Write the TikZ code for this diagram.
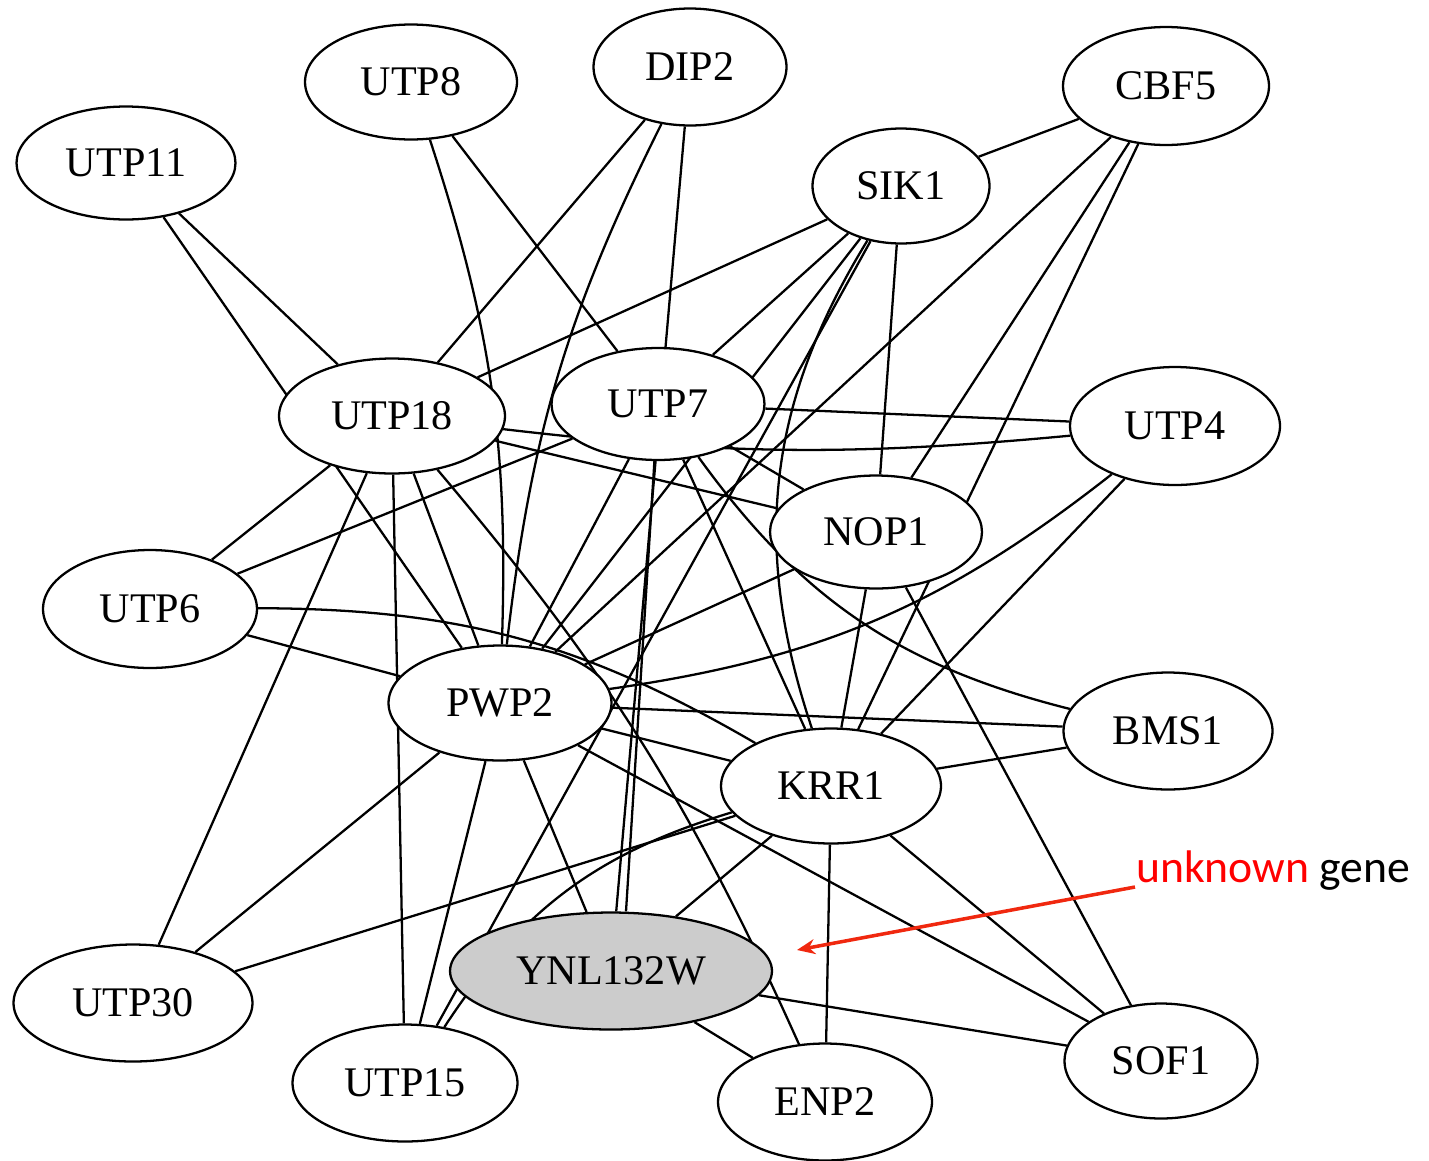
\documentclass[tikz,border=0pt]{standalone}
\usepackage{fontspec}
\setmainfont{Liberation Serif}
\newfontfamily\notefont{Carlito}
\usepackage{xcolor}
\usepackage{tikz}
\usetikzlibrary{shapes.geometric,arrows.meta,backgrounds}
\definecolor{pointer}{RGB}{240,40,15}

\begin{document}
\begin{tikzpicture}[x=0.02cm,y=-0.02cm,line width=1.3pt,
  gene/.style={draw,ellipse,fill=white,inner sep=0pt,line width=1.3pt,font=\fontsize{24}{28}\selectfont},
  query/.style={gene,fill=black!20}]
\useasboundingbox (0,0) rectangle (1429,1160);
% proteins of the network
\node[gene,minimum width=4.38cm,minimum height=2.26cm] (utp11) at (126,163) {UTP11};
\node[gene,minimum width=4.24cm,minimum height=2.3cm] (utp8) at (411,82) {UTP8};
\node[gene,minimum width=3.86cm,minimum height=2.34cm] (dip2) at (690,67) {DIP2};
\node[gene,minimum width=4.12cm,minimum height=2.36cm] (cbf5) at (1166,86) {CBF5};
\node[gene,minimum width=3.54cm,minimum height=2.3cm] (sik1) at (901,186) {SIK1};
\node[gene,minimum width=4.52cm,minimum height=2.3cm] (utp18) at (392,416) {UTP18};
\node[gene,minimum width=4.26cm,minimum height=2.24cm] (utp7) at (658,404) {UTP7};
\node[gene,minimum width=4.2cm,minimum height=2.36cm] (utp4) at (1175,426) {UTP4};
\node[gene,minimum width=4.24cm,minimum height=2.26cm] (nop1) at (876,532) {NOP1};
\node[gene,minimum width=4.28cm,minimum height=2.36cm] (utp6) at (150,609) {UTP6};
\node[gene,minimum width=4.46cm,minimum height=2.3cm] (pwp2) at (500,703) {PWP2};
\node[gene,minimum width=4.18cm,minimum height=2.34cm] (bms1) at (1168,731) {BMS1};
\node[gene,minimum width=4.4cm,minimum height=2.3cm] (krr1) at (831,786) {KRR1};
\node[gene,minimum width=4.78cm,minimum height=2.34cm] (utp30) at (133,1003) {UTP30};
\node[query,minimum width=6.44cm,minimum height=2.34cm] (ynl) at (611,971) {YNL132W};
\node[gene,minimum width=4.5cm,minimum height=2.34cm] (utp15) at (405,1083) {UTP15};
\node[gene,minimum width=4.28cm,minimum height=2.34cm] (enp2) at (825,1102) {ENP2};
\node[gene,minimum width=3.86cm,minimum height=2.3cm] (sof1) at (1161,1061) {SOF1};

% interactions
\begin{scope}[on background layer]
\begin{scope}[line width=1.3pt]
\draw (utp11) -- (utp18);
\draw (utp11) -- (pwp2);
\draw (utp8) -- (utp7);
\draw (utp8) to[bend left=10] (pwp2);
\draw (dip2) -- (utp18);
\draw (dip2) to[bend right=10] (pwp2);
\draw (dip2) -- (ynl);
\draw (sik1) -- (cbf5);
\draw (sik1) -- (utp18);
\draw (sik1) -- (utp7);
\draw (sik1) -- (nop1);
\draw (sik1) -- (pwp2);
\draw (sik1) -- (utp15);
\draw (sik1) to[bend right=25] (krr1);
\draw (cbf5) -- (pwp2);
\draw (cbf5) -- (nop1);
\draw (cbf5) -- (krr1);
\draw (utp4) -- (utp7);
\draw (utp18) to[bend right=6] (utp4);
\draw (utp4) to[bend left=15] (pwp2);
\draw (utp4) -- (krr1);
\draw (utp18) -- (nop1);
\draw (utp7) -- (nop1);
\draw (nop1) -- (krr1);
\draw (nop1) -- (sof1);
\draw (nop1) -- (pwp2);
\draw (utp7) to[bend right=20] (bms1);
\draw (pwp2) -- (bms1);
\draw (krr1) -- (bms1);
\draw (utp6) to[bend left=15] (krr1);
\draw (utp18) -- (utp6);
\draw (utp18) -- (utp30);
\draw (utp18) -- (utp15);
\draw (utp18) -- (pwp2);
\draw (utp18) to[bend left=8] (enp2);
\draw (utp6) -- (utp7);
\draw (utp6) -- (pwp2);
\draw (utp7) -- (pwp2);
\draw (utp7) -- ([xshift=0.3cm]ynl.north);
\draw (utp7) -- (krr1);
\draw (pwp2) -- (krr1);
\draw (pwp2) -- (sof1);
\draw (pwp2) -- (utp30);
\draw (pwp2) -- (utp15);
\draw (pwp2) -- (ynl);
\draw (krr1) -- (enp2);
\draw (krr1) -- (ynl);
\draw (krr1) -- (utp30);
\draw (krr1) to[bend right=20] (utp15);
\draw (krr1) -- (sof1);
\draw (ynl) -- (sof1);
\draw (ynl) -- (enp2);
\end{scope}
\end{scope}

% annotation
\node[anchor=base west,inner sep=0pt,font=\notefont\fontsize{26}{30}\selectfont] (note) at (1135,882)
  {\textcolor{red}{unknown} gene};
\coordinate (tip) at (797,950);
\draw[pointer,line width=2pt,-{Stealth[length=3.6mm,width=3mm]}] ([yshift=-0.1cm]note.base west) -- (tip);
\end{tikzpicture}
\end{document}
